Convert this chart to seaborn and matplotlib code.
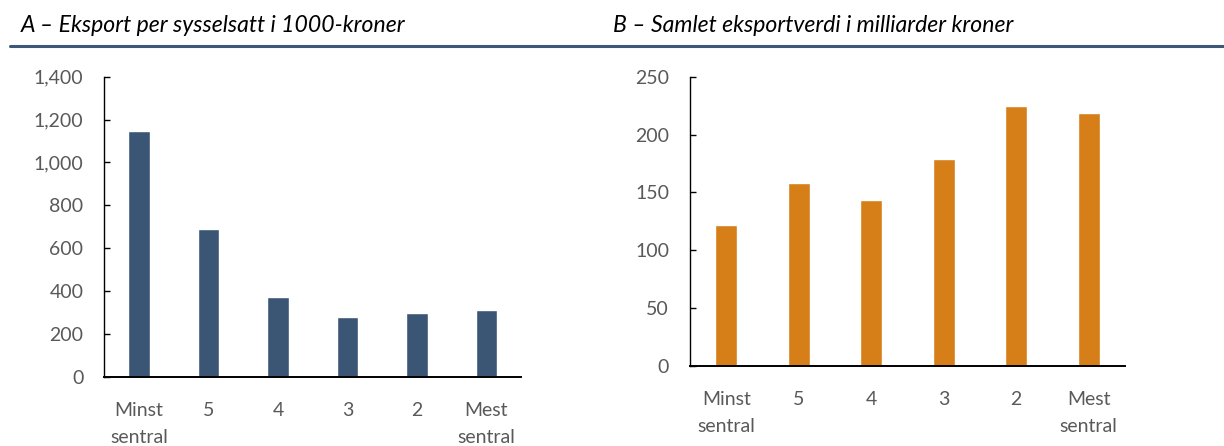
import matplotlib
matplotlib.use("Agg")
import matplotlib.pyplot as plt
from matplotlib.lines import Line2D
from matplotlib.ticker import FuncFormatter
import seaborn as sns
import pandas as pd

categories = ["Minst\nsentral", "5", "4", "3", "2", "Mest\nsentral"]
eksport_per_sysselsatt = [1148, 688, 370, 279, 296, 311]
samlet_eksportverdi = [122, 158, 143, 178.5, 225, 219]
title_a = "A – Eksport per sysselsatt i 1000-kroner"
title_b = "B – Samlet eksportverdi i milliarder kroner"
yticks_a = [0, 200, 400, 600, 800, 1000, 1200, 1400]
yticks_b = [0, 50, 100, 150, 200, 250]

sns.set_style("white")
plt.rcParams['font.family'] = ['Lato', 'DejaVu Sans']

W, H = 1224, 446
fig = plt.figure(figsize=(W / 100, H / 100), dpi=100)

def box(l, r, t, b):
    return [l / W, 1 - b / H, (r - l) / W, (b - t) / H]

col_a = "#3a5674"
col_b = "#d67e17"
grey = "#595959"

ax_a = fig.add_axes(box(104.3, 521, 76.7, 376.7))
ax_b = fig.add_axes(box(690, 1125, 76.7, 365.7))

df_a = pd.DataFrame({"kat": categories, "verdi": eksport_per_sysselsatt})
df_b = pd.DataFrame({"kat": categories, "verdi": samlet_eksportverdi})

sns.barplot(data=df_a, x="kat", y="verdi", order=categories, color=col_a,
            saturation=1, width=0.31, ax=ax_a)
sns.barplot(data=df_b, x="kat", y="verdi", order=categories, color=col_b,
            saturation=1, width=0.31, ax=ax_b)

for ax, ticks in ((ax_a, yticks_a), (ax_b, yticks_b)):
    ax.set_xlim(-0.5, 5.5)
    ax.set_ylim(ticks[0], ticks[-1])
    ax.set_yticks(ticks)
    ax.set_xlabel("")
    ax.set_ylabel("")
    ax.patch.set_alpha(0)
    for s in ("top", "right"):
        ax.spines[s].set_visible(False)
    for s in ("left", "bottom"):
        ax.spines[s].set_color("black")
        ax.spines[s].set_linewidth(1.0)
    ax.spines["bottom"].set_linewidth(1.4)
    ax.tick_params(axis="y", direction="in", length=4.5, width=1.0,
                   color="black", left=True, pad=15, labelsize=14, labelcolor=grey)
    ax.tick_params(axis="x", length=0, pad=18, labelsize=14, labelcolor=grey)
    for lab in ax.get_xticklabels():
        lab.set_linespacing(1.75)

ax_a.yaxis.set_major_formatter(FuncFormatter(lambda v, p: f"{int(v):,}"))

fig.text(20.7 / W, 1 - 25 / H, title_a, fontsize=16.6, style="italic",
         ha="left", va="center", color="black")
fig.text(613 / W, 1 - 25 / H, title_b, fontsize=16.6, style="italic",
         ha="left", va="center", color="black")
fig.add_artist(Line2D([10 / W, 1.0], [1 - 45.7 / H, 1 - 45.7 / H],
                      transform=fig.transFigure, color="#3d5877", linewidth=2.2))

fig.savefig("out.png", dpi=100)
